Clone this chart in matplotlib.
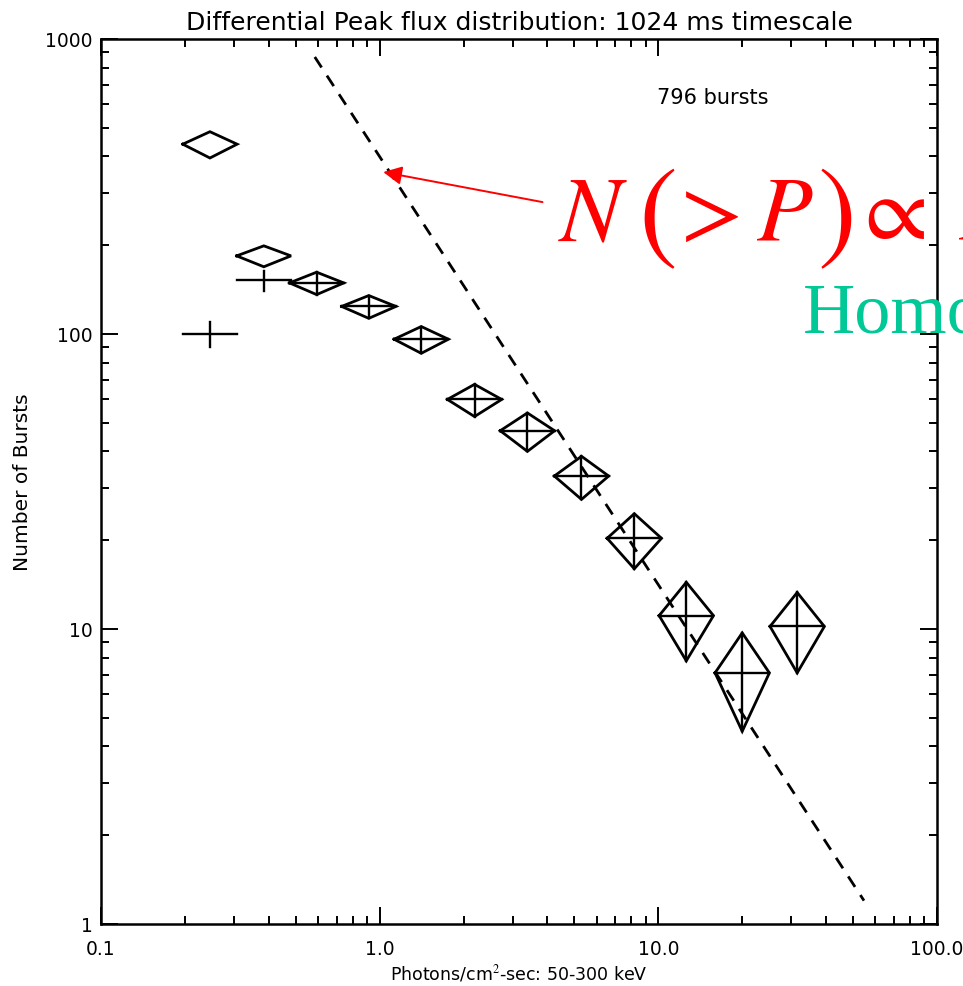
import numpy as np
import matplotlib
matplotlib.use("Agg")
import matplotlib.pyplot as plt
from matplotlib.ticker import LogLocator, FixedLocator, FixedFormatter, NullFormatter

plt.rcParams['font.family'] = ['DejaVu Sans']
plt.rcParams['mathtext.fontset'] = 'stix'

# peak flux bin centres (photons/cm^2/s) and counts per bin
flux = [0.246, 0.384, 0.594, 0.914, 1.41, 2.19, 3.39, 5.3, 8.2, 12.6, 20.0, 31.5]
n_diamond = [440, 184, 149, 124, 96, 60, 47, 33, 20.3, 11.1, 7.1, 10.2]
err_diamond = [45, 15, 13, 11, 10, 7.5, 7, 5.5, 4.3, 3.3, 2.6, 3.1]
n_cross = [100, 152, 149, 124, 96, 60, 47, 33, 20.3, 11.1, 7.1, 10.2]
err_cross = [10, 12, 13, 11, 10, 7.5, 7, 5.5, 4.3, 3.3, 2.6, 3.1]

# power law reference line (end points)
line_x = [0.585, 54.7]
line_y = [869, 1.2]

# arrow tip / tail of the red annotation
arrow_tip = (1.03, 354)
arrow_tail = (3.84, 280)

x_ticks = [0.1, 1.0, 10.0, 100.0]
x_ticklabels = ['0.1', '1.0', '10.0', '100.0']
y_ticks = [1, 10, 100, 1000]
y_ticklabels = ['1', '10', '100', '1000']

half_bin = 0.0975  # half width of a bin in dex

W, H = 963, 987


def px(x, y):
    # pixel position (from top-left) -> figure fraction
    return x / W, 1 - y / H


fig = plt.figure(figsize=(W / 100, H / 100), dpi=100)
ax = fig.add_axes([101 / W, 1 - 925 / H, 836 / W, 885 / H])
ax.set_xscale('log')
ax.set_yscale('log')
ax.set_xlim(0.1, 100)
ax.set_ylim(1, 1000)

for xc, y, e in zip(flux, n_diamond, err_diamond):
    lo = xc * 10 ** -half_bin
    hi = xc * 10 ** half_bin
    ax.plot([lo, xc, hi, xc, lo], [y, y + e, y, y - e, y], color='black', lw=2.0,
            solid_joinstyle='miter')

for xc, y, e in zip(flux, n_cross, err_cross):
    lo = xc * 10 ** -half_bin
    hi = xc * 10 ** half_bin
    ax.plot([lo, hi], [y, y], color='black', lw=1.7)
    ax.plot([xc, xc], [y - e, y + e], color='black', lw=1.7)

ax.plot(line_x, line_y, color='black', lw=2.0, dashes=(4.5, 3.5))

fig.text(*px(713, 98), '796 bursts', fontsize=15, ha='center', va='center')

ax.annotate('', xy=arrow_tip, xytext=arrow_tail,
            arrowprops=dict(arrowstyle='-|>', color='red', lw=1.4,
                            mutation_scale=28, shrinkA=0, shrinkB=0))

# red power law formula, pieced together so the brackets can be taller
red = dict(color='red', ha='left', va='baseline', zorder=10)
fig.text(*px(558, 240), r'$N$', fontsize=66, **red)
fig.text(*px(638, 248), r'$($', fontsize=84, **red)
fig.text(*px(667, 240), r'$>P$', fontsize=66, **red)
fig.text(*px(817, 248), r'$)$', fontsize=84, **red)
fig.text(*px(851, 240), r'$\propto\;P^{-3/2}$', fontsize=66, **red)

fig.text(*px(803, 333), 'Homogeneous', family='Liberation Serif',
         color='#00C896', fontsize=52, ha='left', va='baseline', zorder=10)

ax.xaxis.set_major_locator(FixedLocator(x_ticks))
ax.xaxis.set_major_formatter(FixedFormatter(x_ticklabels))
ax.yaxis.set_major_locator(FixedLocator(y_ticks))
ax.yaxis.set_major_formatter(FixedFormatter(y_ticklabels))
ax.xaxis.set_minor_locator(LogLocator(base=10, subs=np.arange(2, 10)))
ax.yaxis.set_minor_locator(LogLocator(base=10, subs=np.arange(2, 10)))
ax.xaxis.set_minor_formatter(NullFormatter())
ax.yaxis.set_minor_formatter(NullFormatter())

ax.tick_params(which='both', direction='in', top=True, right=True, width=1.4)
ax.tick_params(which='major', length=12, labelsize=13.5)
ax.tick_params(which='minor', length=6)
ax.tick_params(axis='x', which='major', pad=11)
ax.tick_params(axis='y', which='major', pad=6)
for s in ax.spines.values():
    s.set_linewidth(1.8)

ax.set_title('Differential Peak flux distribution: 1024 ms timescale', fontsize=18, pad=7)
ax.set_xlabel('Photons/cm$^2$-sec: 50-300 keV', fontsize=12.5, labelpad=3)
ax.set_ylabel('Number of Bursts', fontsize=14.5)
ax.yaxis.set_label_coords(-0.082, 0.5)

fig.savefig('out.png', dpi=100)
